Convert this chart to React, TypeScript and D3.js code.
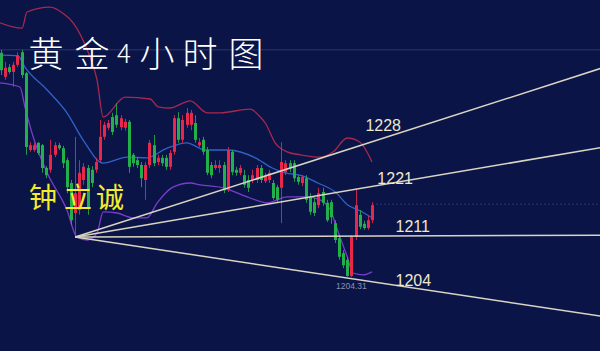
import React from 'react';
import * as d3 from 'd3';

// 4h gold candles, [open, high, low, close]
const candles: number[][] = [
  [1241.7, 1242.2, 1238.0, 1238.8], [1237.7, 1240.2, 1237.2, 1239.2], [1239.3, 1239.8, 1238.2, 1238.5],
  [1238.5, 1240.2, 1236.0, 1239.7], [1239.7, 1241.8, 1239.3, 1241.3], [1241.8, 1242.2, 1237.5, 1238.0],
  [1238.3, 1238.5, 1224.7, 1226.0], [1225.5, 1226.8, 1225.2, 1226.3], [1225.5, 1226.7, 1225.2, 1226.3],
  [1226.7, 1226.8, 1224.7, 1225.0], [1226.3, 1226.5, 1221.7, 1222.5], [1222.5, 1222.8, 1220.8, 1221.3],
  [1222.2, 1227.2, 1221.7, 1224.7], [1224.7, 1226.8, 1224.3, 1226.3], [1226.3, 1226.7, 1225.5, 1225.8],
  [1225.8, 1226.2, 1222.5, 1223.3], [1223.8, 1224.2, 1218.3, 1219.3], [1220.0, 1220.5, 1213.0, 1213.8],
  [1215.0, 1227.7, 1211.0, 1218.3], [1215.5, 1223.8, 1214.7, 1221.7], [1220.5, 1223.3, 1219.7, 1222.7],
  [1222.5, 1223.0, 1214.7, 1216.0], [1222.2, 1222.8, 1219.3, 1220.0], [1222.2, 1224.2, 1221.7, 1223.5],
  [1223.8, 1230.5, 1223.5, 1227.7], [1227.7, 1230.2, 1227.2, 1229.7], [1229.2, 1230.5, 1228.8, 1230.0],
  [1231.0, 1231.7, 1228.0, 1228.5], [1231.3, 1233.3, 1229.2, 1229.7], [1229.3, 1231.3, 1228.8, 1230.8],
  [1229.2, 1230.7, 1228.7, 1230.2], [1230.2, 1230.5, 1221.7, 1222.7], [1224.7, 1225.0, 1222.7, 1223.3],
  [1223.8, 1224.2, 1222.5, 1223.0], [1223.0, 1223.5, 1219.3, 1220.8], [1220.5, 1223.5, 1217.2, 1223.0],
  [1223.0, 1227.2, 1222.5, 1226.7], [1226.3, 1228.0, 1222.8, 1223.3], [1223.5, 1224.7, 1223.0, 1224.2],
  [1224.2, 1224.7, 1222.8, 1223.3], [1224.2, 1224.7, 1222.2, 1222.7], [1222.7, 1225.5, 1222.2, 1225.0],
  [1225.2, 1231.3, 1224.7, 1230.8], [1230.8, 1231.8, 1226.7, 1227.2], [1227.2, 1231.3, 1226.7, 1230.5],
  [1229.7, 1232.5, 1229.2, 1231.7], [1229.7, 1232.2, 1228.8, 1231.7], [1230.0, 1231.3, 1226.7, 1227.2],
  [1226.3, 1227.5, 1226.0, 1226.8], [1227.2, 1227.7, 1224.7, 1225.2], [1225.5, 1226.0, 1221.3, 1221.7],
  [1223.0, 1223.5, 1220.8, 1221.3], [1222.5, 1223.8, 1222.2, 1223.0], [1222.5, 1223.8, 1221.7, 1223.0],
  [1223.0, 1223.5, 1218.3, 1218.8], [1218.8, 1226.0, 1218.5, 1225.5], [1225.2, 1225.5, 1221.3, 1221.8],
  [1222.2, 1222.7, 1221.2, 1221.7], [1221.7, 1223.0, 1221.3, 1222.5], [1221.3, 1222.2, 1219.2, 1219.7],
  [1220.5, 1221.3, 1218.5, 1219.2], [1220.5, 1222.2, 1220.0, 1221.3], [1220.5, 1223.0, 1220.0, 1222.5],
  [1222.5, 1223.0, 1220.0, 1220.5], [1220.3, 1221.7, 1220.0, 1221.2], [1220.5, 1222.2, 1220.0, 1221.7],
  [1220.0, 1220.5, 1217.2, 1217.5], [1219.3, 1219.7, 1216.8, 1217.2], [1219.2, 1226.8, 1213.3, 1223.5],
  [1221.8, 1223.8, 1221.3, 1223.3], [1223.3, 1223.8, 1221.8, 1222.5], [1223.3, 1223.8, 1220.2, 1220.8],
  [1221.0, 1221.3, 1219.7, 1220.2], [1220.0, 1221.3, 1219.5, 1221.0], [1220.8, 1221.3, 1216.7, 1217.2],
  [1217.7, 1218.3, 1214.7, 1215.2], [1216.8, 1217.5, 1214.5, 1215.0], [1216.3, 1219.2, 1215.8, 1218.3],
  [1218.5, 1219.2, 1216.2, 1216.7], [1216.7, 1217.2, 1213.5, 1213.8], [1216.8, 1217.2, 1213.2, 1214.3],
  [1213.3, 1213.8, 1210.0, 1210.5], [1210.8, 1211.3, 1207.2, 1207.7], [1208.3, 1208.8, 1205.8, 1206.3],
  [1207.2, 1207.7, 1204.4, 1204.5], [1204.5, 1211.3, 1204.31, 1211.0], [1211.0, 1219.0, 1210.5, 1216.3],
  [1214.7, 1215.5, 1212.3, 1212.7], [1213.2, 1213.7, 1212.2, 1212.5], [1212.5, 1214.5, 1212.2, 1213.8],
  [1213.8, 1216.8, 1213.3, 1216.3],
];

// bollinger bands, [candle index, price]
const upperBand: number[][] = [
  [-0.3, 1246.7], [5.1, 1245.8], [6.3, 1248.5], [11.9, 1249.3], [15.0, 1248.3], [17.5, 1246.7],
  [20.9, 1242.2], [23.3, 1237.2], [24.8, 1231.0], [30.1, 1234.3], [36.2, 1234.0], [38.1, 1232.7],
  [41.0, 1232.5], [45.9, 1233.7], [50.0, 1231.7], [53.2, 1231.7], [60.4, 1232.3], [62.9, 1231.0],
  [64.1, 1230.0], [66.5, 1226.7], [69.4, 1225.2], [72.6, 1224.7], [77.4, 1224.3], [80.6, 1225.2],
  [84.0, 1227.5], [87.1, 1226.8], [90.0, 1223.5],
];
const midBand: number[][] = [
  [-0.3, 1241.3], [4.1, 1241.2], [5.8, 1239.3], [11.2, 1235.5], [16.0, 1231.7], [19.9, 1227.2],
  [24.8, 1223.3], [30.6, 1224.3], [35.4, 1224.2], [40.3, 1225.8], [45.1, 1226.7], [49.5, 1225.5],
  [55.1, 1225.5], [61.7, 1224.2], [65.8, 1222.5], [68.9, 1221.7], [73.1, 1221.2], [76.9, 1220.0],
  [81.1, 1218.5], [84.2, 1216.3], [86.7, 1215.5], [90.0, 1214.2],
];
const lowerBand: number[][] = [
  [-0.3, 1236.7], [4.6, 1236.0], [5.8, 1232.7], [7.8, 1227.7], [11.2, 1221.7], [16.0, 1215.5],
  [18.4, 1211.0], [20.9, 1210.5], [23.3, 1211.7], [24.8, 1215.2], [28.2, 1215.0], [32.0, 1214.2],
  [35.4, 1214.2], [37.9, 1216.7], [41.7, 1219.3], [45.9, 1220.0], [48.3, 1219.7], [53.9, 1219.2],
  [59.7, 1217.7], [64.6, 1216.7], [69.4, 1217.7], [74.3, 1217.7], [77.4, 1217.2], [79.9, 1215.5],
  [81.6, 1212.2], [84.0, 1207.7], [85.4, 1205.0], [87.9, 1204.7], [90.0, 1205.2],
];

// fan lines from the swing low
const fanAnchor = [18, 1211.0];
const fanEndIndex = 145.5;
const fanEndPrices = [1239.1, 1225.9, 1211.3, 1197.8];

const levelLabels = ['1228', '1221', '1211', '1204'];
const levelLabelPos: number[][] = [[88.4, 1228.6], [91.3, 1219.8], [95.7, 1211.8], [95.7, 1202.8]];

const lowText = '1204.31';
const lowIndex = 85;
const crossPrice = 1242.2;

const titleChars = ['黄', '金', '4', '小', '时', '图'];
const authorChars = ['钟', '立', '诚'];

const W = 600;
const H = 351;

export default function App() {
  const x = d3.scaleLinear().domain([0, 90]).range([1, 372]);
  const y = d3.scaleLinear().domain([1250.5, 1192]).range([0, 351]);

  const bandPath = (pts: number[][]) =>
    d3.line<number[]>().x(d => x(d[0])).y(d => y(d[1])).curve(d3.curveMonotoneX)(pts) || '';

  const up = '#e8274b';
  const down = '#23b04c';
  const last = candles[candles.length - 1];

  const titleX = [46, 92, 124, 157, 200, 246];
  const authorX = [43, 78, 110];

  return (
    <svg width={W} height={H} style={{ position: 'fixed', left: 0, top: 0, display: 'block' }}>
      <rect width={W} height={H} fill="#0b1446" />

      <line x1={0} x2={W} y1={y(crossPrice)} y2={y(crossPrice)} stroke="#2a3670" strokeWidth={1} />
      <line x1={x(90)} x2={W} y1={y(last[3]) - 1} y2={y(last[3]) - 1}
        stroke="#2a3670" strokeWidth={1} strokeDasharray="2,2" />

      <path d={bandPath(upperBand)} fill="none" stroke="#a8284e" strokeWidth={1.3} />
      <path d={bandPath(midBand)} fill="none" stroke="#2f62c8" strokeWidth={1.3} />
      <path d={bandPath(lowerBand)} fill="none" stroke="#7a3ccc" strokeWidth={1.3} />

      {candles.map((c, i) => {
        const [o, h, l, cl] = c;
        const col = cl >= o ? up : down;
        const cx = Math.round(x(i)) + 0.5;
        const top = y(Math.max(o, cl));
        const bot = y(Math.min(o, cl));
        return (
          <g key={i}>
            <line x1={cx} x2={cx} y1={y(h)} y2={y(l)} stroke={col} strokeWidth={1} opacity={0.85} />
            <rect x={cx - 1.5} y={top} width={3} height={Math.max(1, bot - top)} fill={col} />
          </g>
        );
      })}

      {fanEndPrices.map((p, i) => (
        <line key={i} x1={x(fanAnchor[0])} y1={y(fanAnchor[1])} x2={x(fanEndIndex)} y2={y(p)}
          stroke="#d9d5c3" strokeWidth={1.5} />
      ))}

      {levelLabels.map((t, i) => (
        <text key={t} x={x(levelLabelPos[i][0])} y={y(levelLabelPos[i][1])}
          fill="#eee8cc" fontSize={16} fontFamily="'Liberation Sans', Arial, sans-serif">{t}</text>
      ))}

      <text x={x(lowIndex)} y={289} textAnchor="middle" fill="#8d93ad" fontSize={8.5}
        fontFamily="'Liberation Sans', Arial, sans-serif">{lowText}</text>

      {titleChars.map((ch, i) => (
        <text key={i} x={titleX[i]} y={51} textAnchor="middle" dominantBaseline="central"
          fill="#ffffff" fontSize={ch === '4' ? 26 : 35} fontWeight={300}
          fontFamily="'Noto Sans CJK SC', sans-serif">{ch}</text>
      ))}

      {authorChars.map((ch, i) => (
        <text key={i} x={authorX[i]} y={196} textAnchor="middle" dominantBaseline="central"
          fill="#f3ec2e" fontSize={28} fontFamily="'Noto Sans CJK SC', sans-serif">{ch}</text>
      ))}
    </svg>
  );
}
